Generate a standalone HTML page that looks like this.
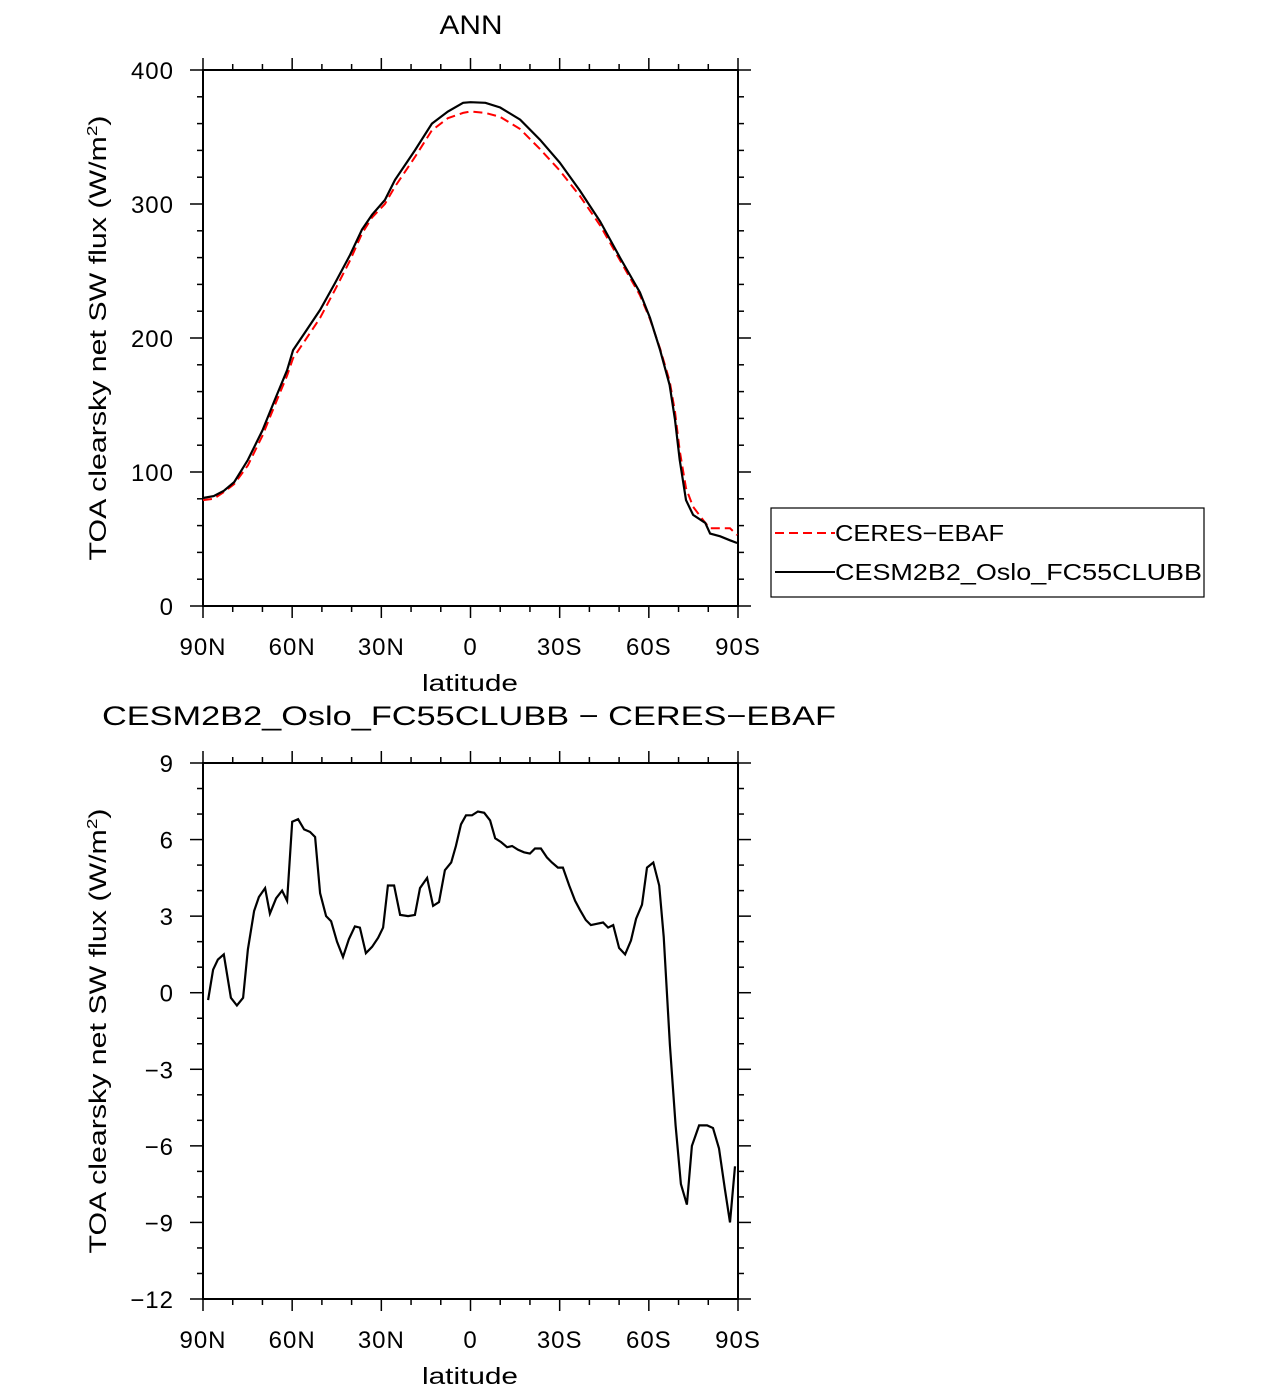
<!DOCTYPE html>
<html><head><meta charset="utf-8"><style>
body{margin:0;background:#fff}
svg{display:block}
text{font-family:"Liberation Sans","DejaVu Sans",sans-serif;fill:#000}
</style></head><body>
<svg id="chart" width="1285" height="1390" viewBox="0 0 1285 1390" xmlns="http://www.w3.org/2000/svg">
<g id="topPanel"></g>
<g id="botPanel"></g>
</svg>
<script>
// Top panel data
const modelLat = [90,86.4,83,79.5,74.9,70,65.8,61.7,59.7,55.7,50.6,45.6,40.5,36.5,33.1,28.8,25.4,18.7,13,7.6,2.5,0,-5,-10,-16.7,-23.4,-30,-36.8,-43.6,-50.3,-57,-60.4,-63.8,-67,-68.8,-70.4,-72.5,-74.9,-79,-80.6,-84,-87.3,-89.7];
const modelVal = [80.6,82,86,92.5,109,131,154,176,191,204,221,241,262,281,292,303,318,340,360,369,375.5,376,375.5,372,363,348,331,310,287,260,234,215,191,165,139,109,79,68,62,54,52,49,47];
const ceresVal = [79,80,85,91,105,127,150,172,185,198,215,236,258,278,290,300,313,335,355,364,368,369,368,365,356,341,325,306,284,258,232,214,192,168,145,116,88,74,62,58,58,58,53];
const topYTicks = [0,100,200,300,400];
const xTickLat = [90,60,30,0,-30,-60,-90];
const xTickLabels = ["90N","60N","30N","0","30S","60S","90S"];
// Bottom panel data
const diffLat = [88.3,86.6,85,83,80.6,78.6,76.5,74.9,72.8,71.2,69.1,67.5,65.4,63.4,61.7,60,58,56,54,52.3,50.6,48.6,46.9,44.9,42.9,40.9,38.9,37.2,35.2,33.1,31.1,29.4,27.8,25.7,23.7,21,18.7,17,14.6,12.6,10.6,8.6,6.5,4.9,3.2,1.5,-0.5,-2.5,-4.6,-6.6,-8.3,-10.3,-12.3,-14,-16,-18,-20,-21.7,-23.7,-25.7,-27.4,-29.4,-31.1,-33.2,-35.2,-36.8,-38.8,-40.5,-42.5,-44.6,-46.3,-48,-50,-52,-54,-55.7,-57.7,-59.4,-61.5,-63.5,-65,-67.1,-69,-70.8,-72.8,-74.5,-76.9,-79.6,-81.6,-83.6,-85.6,-87.3,-89];
const diffVal = [-0.29,0.9,1.3,1.5,-0.2,-0.5,-0.2,1.7,3.2,3.75,4.1,3.1,3.7,4.0,3.6,6.7,6.8,6.4,6.3,6.1,3.9,3.0,2.8,2.0,1.4,2.1,2.6,2.55,1.55,1.8,2.15,2.55,4.2,4.2,3.05,3.0,3.05,4.1,4.5,3.4,3.55,4.8,5.1,5.75,6.6,6.95,6.95,7.1,7.05,6.75,6.05,5.9,5.7,5.75,5.6,5.5,5.45,5.65,5.65,5.3,5.1,4.9,4.9,4.2,3.6,3.25,2.85,2.65,2.7,2.75,2.55,2.65,1.75,1.5,2.05,2.9,3.45,4.9,5.1,4.2,2.2,-2.05,-5.2,-7.5,-8.3,-6.0,-5.2,-5.2,-5.3,-6.1,-7.7,-9.0,-6.8];
const botYTicks = [-12,-9,-6,-3,0,3,6,9];
const botYLabels = ["\u221212","\u22129","\u22126","\u22123","0","3","6","9"];

(function(){
const NS="http://www.w3.org/2000/svg";
function mk(parent,tag,attrs,txt){const e=document.createElementNS(NS,tag);for(const k in attrs)e.setAttribute(k,attrs[k]);if(txt!==undefined)e.textContent=txt;parent.appendChild(e);return e;}
const X0=203,X1=738;
const xs=lat=>X0+(90-lat)/180*(X1-X0);

function panel(g,yT,yB,vmin,vmax,majors,labels,minorStep,name){
  const ys=v=>yB-(v-vmin)/(vmax-vmin)*(yB-yT);
  const fr=mk(g,'rect',{x:X0,y:yT,width:X1-X0,height:yB-yT,fill:'none',stroke:'#000','stroke-width':2});
  
  
  for(let lat=90;lat>=-90;lat-=10){
    const x=xs(lat);const maj=lat%30===0;const L=maj?12:6;
    mk(g,'line',{x1:x,y1:yT,x2:x,y2:yT-L,stroke:'#000','stroke-width':1.5});
    mk(g,'line',{x1:x,y1:yB,x2:x,y2:yB+L,stroke:'#000','stroke-width':1.5});
  }
  xTickLat.forEach((lat,i)=>{
    const t=mk(g,'text',{x:xs(lat),y:yB+49,'font-size':24,'text-anchor':'middle','letter-spacing':1},xTickLabels[i]);
    
    
  });
  for(let v=vmin;v<=vmax+1e-9;v+=minorStep){
    const y=ys(v);const maj=majors.some(m=>Math.abs(m-v)<1e-6);const L=maj?13:6;
    mk(g,'line',{x1:X0,y1:y,x2:X0-L,y2:y,stroke:'#000','stroke-width':1.5});
    mk(g,'line',{x1:X1,y1:y,x2:X1+L,y2:y,stroke:'#000','stroke-width':1.5});
  }
  majors.forEach((v,i)=>{
    const t=mk(g,'text',{x:174,y:ys(v)+9,'font-size':24,'text-anchor':'end','letter-spacing':1},labels[i]);
    
    
  });
  const xl=mk(g,'text',{x:470,y:yB+85,'font-size':23,'text-anchor':'middle',textLength:96,lengthAdjust:'spacingAndGlyphs'},'latitude');
  
  
  const cy=(yT+yB)/2;
  const yl=mk(g,'text',{x:0,y:0,'font-size':24,'text-anchor':'middle',textLength:445,lengthAdjust:'spacingAndGlyphs',transform:`translate(106,${cy}) rotate(-90)`});
  
  
  yl.appendChild(document.createTextNode('TOA clearsky net SW flux (W/m'));
  mk(yl,'tspan',{dy:-9,'font-size':15},'2');
  mk(yl,'tspan',{dy:9},')');
  return ys;
}

const topG=document.getElementById('topPanel');
const ysT=panel(topG,70,606,0,400,topYTicks,topYTicks.map(String),20,'top');
const ttl=mk(topG,'text',{x:471,y:34,'font-size':27,'text-anchor':'middle',textLength:63,lengthAdjust:'spacingAndGlyphs'},'ANN');


const pM=modelLat.map((l,i)=>`${xs(l).toFixed(1)},${ysT(modelVal[i]).toFixed(1)}`).join(' ');
const pC=modelLat.map((l,i)=>`${xs(l).toFixed(1)},${ysT(ceresVal[i]).toFixed(1)}`).join(' ');
const lc=mk(topG,'polyline',{points:pC,fill:'none',stroke:'#f00','stroke-width':2,'stroke-dasharray':'9,5'});


const lm=mk(topG,'polyline',{points:pM,fill:'none',stroke:'#000','stroke-width':2.2});


const lg=mk(topG,'g',{});


mk(lg,'rect',{x:771,y:508,width:433,height:89,fill:'#fff',stroke:'#000','stroke-width':1.2});
mk(lg,'line',{x1:775,y1:533,x2:835,y2:533,stroke:'#f00','stroke-width':2,'stroke-dasharray':'9,5'});
const t1=mk(lg,'text',{x:835,y:541,'font-size':23,textLength:169,lengthAdjust:'spacingAndGlyphs'},'CERES\u2212EBAF');


mk(lg,'line',{x1:775,y1:572,x2:835,y2:572,stroke:'#000','stroke-width':2});
const t2=mk(lg,'text',{x:835,y:580,'font-size':23,textLength:367,lengthAdjust:'spacingAndGlyphs'},'CESM2B2_Oslo_FC55CLUBB');



const botG=document.getElementById('botPanel');
const ysB=panel(botG,763,1299,-12,9,botYTicks,botYLabels,1,'bottom');
const bt=mk(botG,'text',{x:469,y:725,'font-size':27,'text-anchor':'middle',textLength:734,lengthAdjust:'spacingAndGlyphs'},'CESM2B2_Oslo_FC55CLUBB \u2212 CERES\u2212EBAF');


const pD=diffLat.map((l,i)=>`${xs(l).toFixed(1)},${ysB(diffVal[i]).toFixed(1)}`).join(' ');
const ld=mk(botG,'polyline',{points:pD,fill:'none',stroke:'#000','stroke-width':2.2});


})();
</script>
</body></html>
